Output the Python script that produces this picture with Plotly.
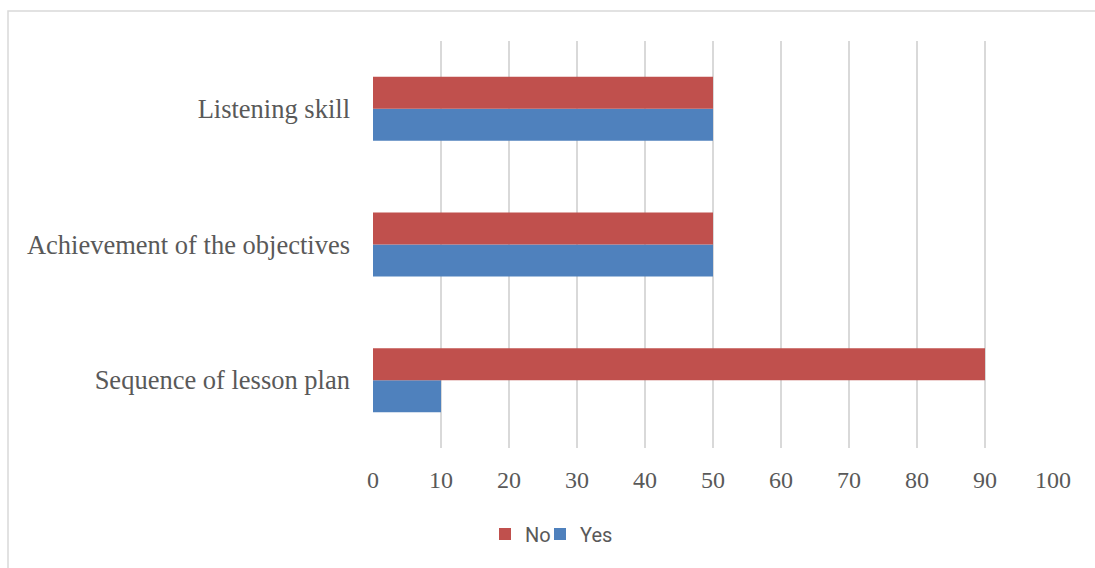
import plotly.graph_objects as go

# Survey items, listed bottom to top on the category axis
categories = ["Sequence of lesson plan", "Achievement of the objectives", "Listening skill"]
yes_values = [10, 50, 50]
no_values = [90, 50, 50]
x_ticks = [0, 10, 20, 30, 40, 50, 60, 70, 80, 90, 100]

BLUE = "#4F81BD"
RED = "#C0504D"
TEXT = "#595959"
GRID = "#D9D9D9"
SERIF = "Liberation Serif, Times New Roman, serif"

W, H = 1095, 568
L, R, T, B = 373, 42, 41, 120
pw, ph = W - L - R, H - T - B


def px_x(x):
    return (x - L) / pw


def px_y(y):
    return (H - B - y) / ph


fig = go.Figure()
fig.add_trace(go.Bar(
    name="Yes", y=categories, x=yes_values, orientation="h",
    marker=dict(color=BLUE, line=dict(width=0)), legend="legend2",
))
fig.add_trace(go.Bar(
    name="No", y=categories, x=no_values, orientation="h",
    marker=dict(color=RED, line=dict(width=0)), legend="legend",
))

legend_style = dict(
    orientation="h", yanchor="middle", xanchor="left",
    font=dict(family="Roboto", size=20, color=TEXT),
    indentation=-8, itemsizing="constant", bgcolor="rgba(0,0,0,0)",
)

fig.update_layout(
    width=W, height=H,
    margin=dict(l=L, r=R, t=T, b=B, pad=0),
    paper_bgcolor="white", plot_bgcolor="white",
    barmode="group", bargap=0.528, bargroupgap=0,
    showlegend=True,
    legend=dict(x=px_x(493), y=px_y(534), **legend_style),
    legend2=dict(x=px_x(548), y=px_y(534), **legend_style),
    xaxis=dict(
        range=[0, 100], tickvals=x_ticks, ticktext=[str(v) for v in x_ticks],
        showgrid=True, gridcolor=GRID, gridwidth=1.5,
        zeroline=False, showline=False, ticks="",
        ticklabelstandoff=15,
        tickfont=dict(family=SERIF, size=24, color=TEXT),
    ),
    yaxis=dict(
        showgrid=False, zeroline=False, showline=False, ticks="",
        ticklabelstandoff=22,
        tickfont=dict(family=SERIF, size=26.5, color=TEXT),
    ),
    shapes=[dict(
        type="rect", xref="paper", yref="paper",
        x0=px_x(8), x1=1.2,
        y0=-0.5, y1=px_y(11),
        line=dict(color=GRID, width=1.5), layer="below",
    )],
)

fig.write_html("out.html")
